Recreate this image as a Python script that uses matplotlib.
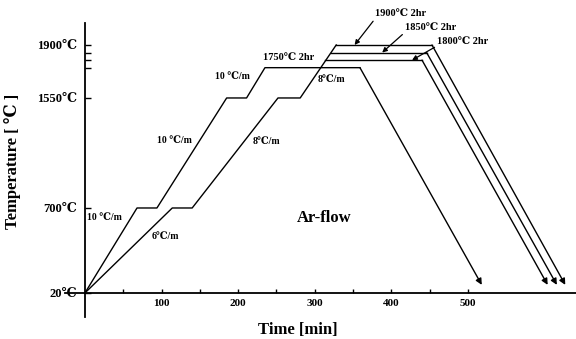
import numpy as np
import matplotlib
matplotlib.use("Agg")
import matplotlib.pyplot as plt

# fonts: serif bold, with a fallback for the degree-celsius sign
SERIF = ['Liberation Serif', 'DejaVu Serif']
plt.rcParams['font.family'] = SERIF
plt.rcParams['font.weight'] = 'bold'

# ---------------------------------------------------------------------------
# data (time in min, temperature in C)
# ---------------------------------------------------------------------------
# path A: 10 C/min up to 1750 C, 2 hr hold
time_a = [0, 68, 94, 185, 211, 235, 359]
temp_a = [20, 700, 700, 1550, 1550, 1750, 1750]
cool_a = (518, 85)

# path B: 6 C/min to 700, 8 C/min to the final hold (1800 / 1850 / 1900)
time_b = [0, 114, 140, 252, 281, 328]
temp_b = [20, 700, 700, 1550, 1550, 1900]
peak_temps = [1800, 1850, 1900]
peak_start = [314, 321, 328]
peak_end = [440, 446, 453]
cool_end_t = [604, 616, 627]
cool_end_T = 85

ytick_vals = [20, 700, 1550, 1900]
ytick_minor = [1750, 1800, 1850]
xtick_vals = [100, 200, 300, 400, 500]
xtick_minor = [50, 150, 250, 350, 450]

# the temperature axis in the original is not linear: piecewise mapping
knots_t = np.array([20, 700, 1550, 1900], float)
knots_h = np.array([0, 85, 195, 248], float)


def fwd(t):
    t = np.asarray(t, float)
    h = np.interp(t, knots_t, knots_h)
    h = np.where(t < 20, (t - 20) * 85 / 680, h)
    h = np.where(t > 1900, 248 + (t - 1900) * 53 / 350, h)
    return h


def inv(h):
    h = np.asarray(h, float)
    t = np.interp(h, knots_h, knots_t)
    t = np.where(h < 0, 20 + h * 680 / 85, t)
    t = np.where(h > 248, 1900 + (h - 248) * 350 / 53, t)
    return t


fig = plt.figure(figsize=(5.76, 3.39), dpi=100)
ax = fig.add_axes([65 / 576, 22 / 339, 511 / 576, 294 / 339])
ax.set_yscale('function', functions=(fwd, inv))
ax.set_xlim(-26, 641)
ax.set_ylim(-172, 2045)

LW = 1.0
arrow_kw = dict(arrowstyle='-|>', color='k', lw=LW, mutation_scale=9,
                shrinkA=0, shrinkB=0)

# path A
ax.plot(time_a, temp_a, color='k', lw=LW)
ax.annotate('', xy=cool_a, xytext=(time_a[-1], temp_a[-1]), arrowprops=arrow_kw)

# path B: shared heating ramp, then one branch per hold temperature
ax.plot(time_b, temp_b, color='k', lw=LW)
for Tp, ts, te, tc in zip(peak_temps, peak_start, peak_end, cool_end_t):
    ax.plot([ts, te], [Tp, Tp], color='k', lw=LW)
    ax.annotate('', xy=(tc, cool_end_T), xytext=(te, Tp), arrowprops=arrow_kw)

# axes look
for s in ['top', 'right']:
    ax.spines[s].set_visible(False)
ax.spines['left'].set_position(('data', 0))
ax.spines['bottom'].set_position(('data', 20))
ax.spines['left'].set_linewidth(1.3)
ax.spines['bottom'].set_linewidth(1.3)

ax.set_yticks(ytick_vals)
ax.set_yticklabels([f'{v}℃' for v in ytick_vals])
ax.set_yticks(ytick_minor, minor=True)
ax.set_xticks(xtick_vals)
ax.set_xticks(xtick_minor, minor=True)
ax.tick_params(axis='y', which='both', direction='in', length=4, width=1, pad=6,
               labelsize=9)
ax.tick_params(axis='x', which='both', direction='in', length=3, width=1, pad=4,
               labelsize=8)

# annotations
small = dict(fontsize=7, fontweight='bold', ha='left', va='center')
ax.text(3, 620, '10 ℃/m', **small)
ax.text(87, 468, '6℃/m', **small)
ax.text(94, 1224, '10 ℃/m', **small)
ax.text(170, 1689, '10 ℃/m', **small)
ax.text(219, 1210, '8℃/m', **small)
ax.text(304, 1675, '8℃/m', **small)
ax.text(232, 1814, '1750℃ 2hr', fontsize=7.5, fontweight='bold', ha='left', va='center')
ax.text(312, 620, 'Ar-flow', fontsize=12, fontweight='bold', ha='center', va='center')

lab_kw = dict(arrowstyle='-|>', color='k', lw=0.9, mutation_scale=7,
              shrinkA=0, shrinkB=0, relpos=(0, 0))
ax.annotate('1900℃ 2hr', xy=(352, 1900), xytext=(379, 2075),
            fontsize=7.5, ha='left', va='bottom', arrowprops=lab_kw,
            annotation_clip=False)
ax.annotate('1850℃ 2hr', xy=(388, 1850), xytext=(418, 1985),
            fontsize=7.5, ha='left', va='bottom', arrowprops=lab_kw,
            annotation_clip=False)
ax.annotate('1800℃ 2hr', xy=(427, 1800), xytext=(460, 1895),
            fontsize=7.5, ha='left', va='bottom', arrowprops=lab_kw,
            annotation_clip=False)

fig.text(13 / 576, 1 - 161 / 339, 'Temperature [ ℃ ]', rotation=90,
         ha='center', va='center', fontsize=12, fontweight='bold')
fig.text(298 / 576, 1 - 330 / 339, 'Time [min]', ha='center', va='center',
         fontsize=12, fontweight='bold')

fig.savefig('out.png', dpi=100)
